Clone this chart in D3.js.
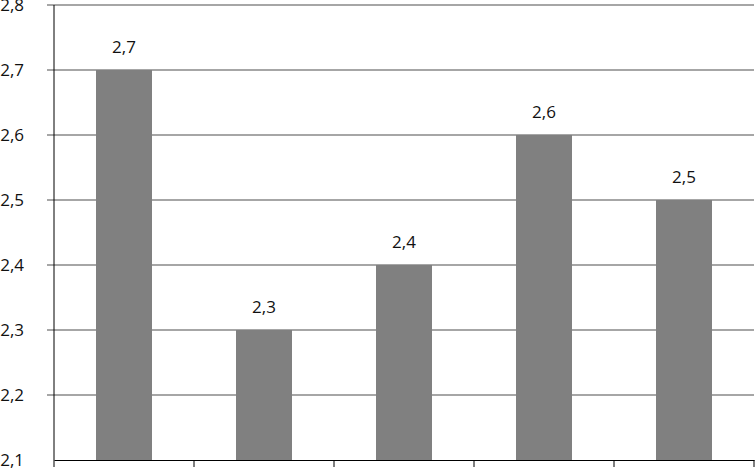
<!DOCTYPE html>
<html>
<head>
<meta charset="utf-8">
<script src="https://cdn.jsdelivr.net/npm/d3@7"></script>
<style>
  body { margin: 0; background: #fff; }
  text { font-family: "Open Sans", "DejaVu Sans", sans-serif; }
</style>
</head>
<body>
<svg width="755" height="470"></svg>
<script>
const categories = ['A', 'B', 'C', 'D', 'E'];
const values = [2.7, 2.3, 2.4, 2.6, 2.5];
const yTicks = [2.1, 2.2, 2.3, 2.4, 2.5, 2.6, 2.7, 2.8];

// chart area
const plotLeft = 54, plotRight = 754, plotTop = 5, plotBottom = 460;

const svg = d3.select('svg');
const fmt = (d) => d3.format('.1f')(d).replace('.', ',');

const x = d3.scaleBand()
    .domain(categories)
    .range([plotLeft, plotRight])
    .paddingInner(0.6)
    .paddingOuter(0.3);

const xCat = d3.scaleBand()
    .domain(categories)
    .range([plotLeft, plotRight]);

const y = d3.scaleLinear()
    .domain([2.1, 2.8])
    .range([plotBottom, plotTop]);

// grid lines + left ticks
svg.append('g')
    .selectAll('line')
    .data(yTicks.slice(1))
    .enter()
    .append('line')
    .attr('x1', plotLeft - 7)
    .attr('x2', plotRight)
    .attr('y1', (d) => y(d))
    .attr('y2', (d) => y(d))
    .attr('stroke', '#888')
    .attr('stroke-width', 1.3);

// y labels
svg.append('g')
    .selectAll('text')
    .data(yTicks)
    .enter()
    .append('text')
    .attr('x', 24)
    .attr('y', (d) => y(d))
    .attr('dy', '0.36em')
    .attr('text-anchor', 'end')
    .attr('font-size', 17)
    .attr('fill', '#111')
    .text(fmt);

// bars
svg.append('g')
    .selectAll('rect')
    .data(values)
    .enter()
    .append('rect')
    .attr('x', (d, i) => x(categories[i]))
    .attr('y', (d) => y(d))
    .attr('width', x.bandwidth())
    .attr('height', (d) => plotBottom - y(d))
    .attr('fill', '#808080');

// value labels
svg.append('g')
    .selectAll('text')
    .data(values)
    .enter()
    .append('text')
    .attr('x', (d, i) => x(categories[i]) + x.bandwidth() / 2)
    .attr('y', (d) => y(d) - 17)
    .attr('text-anchor', 'middle')
    .attr('font-size', 17)
    .attr('fill', '#111')
    .text(fmt);

// y axis line
svg.append('line')
    .attr('x1', plotLeft).attr('x2', plotLeft)
    .attr('y1', plotTop).attr('y2', plotBottom)
    .attr('stroke', '#000');

// bottom axis
svg.append('g')
    .attr('transform', `translate(0, ${plotBottom})`)
    .call(d3.axisBottom(xCat).tickValues([]).tickSizeOuter(0))
    .call((g) => g.select('.domain').attr('stroke', '#000').attr('stroke-width', 1.2));

const catEdges = categories.map((c) => xCat(c)).concat([plotRight]);
svg.append('g')
    .selectAll('line')
    .data(catEdges)
    .enter()
    .append('line')
    .attr('x1', (d) => d).attr('x2', (d) => d)
    .attr('y1', plotBottom).attr('y2', plotBottom + 7)
    .attr('stroke', '#000');
</script>
</body>
</html>
